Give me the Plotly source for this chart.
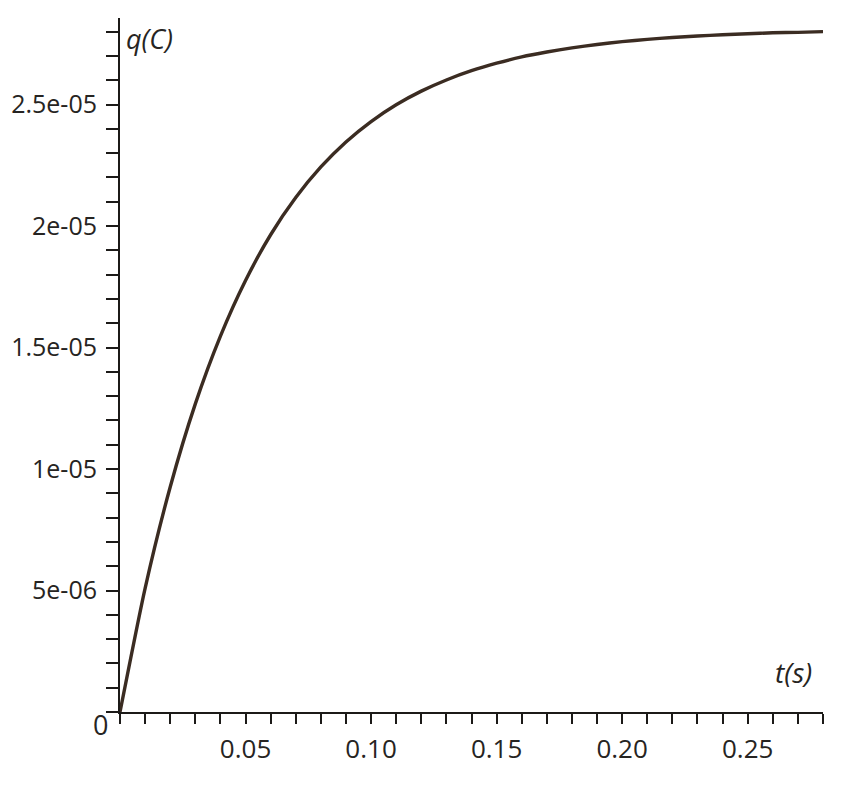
import plotly.graph_objects as go

# Time (s) and charge (C)
t_values = [0.00, 0.01, 0.02, 0.03, 0.04, 0.05, 0.06, 0.07, 0.08, 0.09,
            0.10, 0.11, 0.12, 0.13, 0.14, 0.15, 0.16, 0.17, 0.18, 0.19,
            0.20, 0.21, 0.22, 0.23, 0.24, 0.25, 0.26, 0.27, 0.28]
q_micro = [0.00, 5.09, 9.26, 12.68, 15.47, 17.76, 19.64, 21.17, 22.43, 23.46,
           24.30, 24.99, 25.55, 26.01, 26.39, 26.70, 26.96, 27.16, 27.33, 27.47,
           27.59, 27.68, 27.76, 27.82, 27.87, 27.91, 27.95, 27.97, 28.00]
q_values = [v * 1e-6 for v in q_micro]

# Tick labels
x_tick_vals = [round(i * 0.01, 2) for i in range(29)]
x_label_map = {0.05: "0.05", 0.10: "0.10", 0.15: "0.15", 0.20: "0.20", 0.25: "0.25"}
x_tick_text = [x_label_map.get(v, "") for v in x_tick_vals]

y_tick_vals = [i * 1e-6 for i in range(29)]
y_label_map = {5: "5e-06", 10: "1e-05", 15: "1.5e-05", 20: "2e-05", 25: "2.5e-05"}
y_tick_text = [y_label_map.get(i, "") for i in range(29)]

axis_color = "#1c1a18"
text_color = "#262422"
font_family = "Open Sans"

fig = go.Figure()
fig.add_trace(go.Scatter(
    x=t_values, y=q_values, mode="lines",
    line=dict(color="#3b2c22", width=3.4, shape="spline", smoothing=0.6),
    hoverinfo="skip", showlegend=False,
))

fig.update_layout(
    width=850, height=800,
    margin=dict(l=112, r=35, t=10, b=96, autoexpand=False),
    paper_bgcolor="white", plot_bgcolor="white",
    font=dict(family=font_family, color=text_color, size=25),
    xaxis=dict(
        range=[0, 0.28], showgrid=False, zeroline=False,
        showline=True, linecolor=axis_color, linewidth=2,
        ticks="outside", ticklen=10, tickwidth=2, tickcolor=axis_color,
        tickmode="array", tickvals=x_tick_vals, ticktext=x_tick_text,
        tickfont=dict(family=font_family, size=26, color=text_color),
        ticklabelstandoff=3, automargin=False,
    ),
    yaxis=dict(
        range=[0, 2.856e-5], showgrid=False, zeroline=False,
        showline=True, linecolor=axis_color, linewidth=2,
        ticks="outside", ticklen=12, tickwidth=2, tickcolor=axis_color,
        tickmode="array", tickvals=y_tick_vals, ticktext=y_tick_text,
        tickfont=dict(family=font_family, size=25, color=text_color),
        ticklabelstandoff=4, automargin=False,
    ),
    annotations=[
        dict(text="<i>q(C)</i>", xref="paper", yref="paper", x=0.0413, y=0.971,
             xanchor="center", yanchor="middle", showarrow=False,
             font=dict(family=font_family, size=27, color=text_color)),
        dict(text="<i>t(s)</i>", xref="paper", yref="paper", x=0.9587, y=0.0576,
             xanchor="center", yanchor="middle", showarrow=False,
             font=dict(family=font_family, size=28, color=text_color)),
        dict(text="0", xref="paper", yref="paper", x=-0.0284, y=-0.0187,
             xanchor="center", yanchor="middle", showarrow=False,
             font=dict(family=font_family, size=27, color=text_color)),
    ],
)

fig.write_html("out.html")
